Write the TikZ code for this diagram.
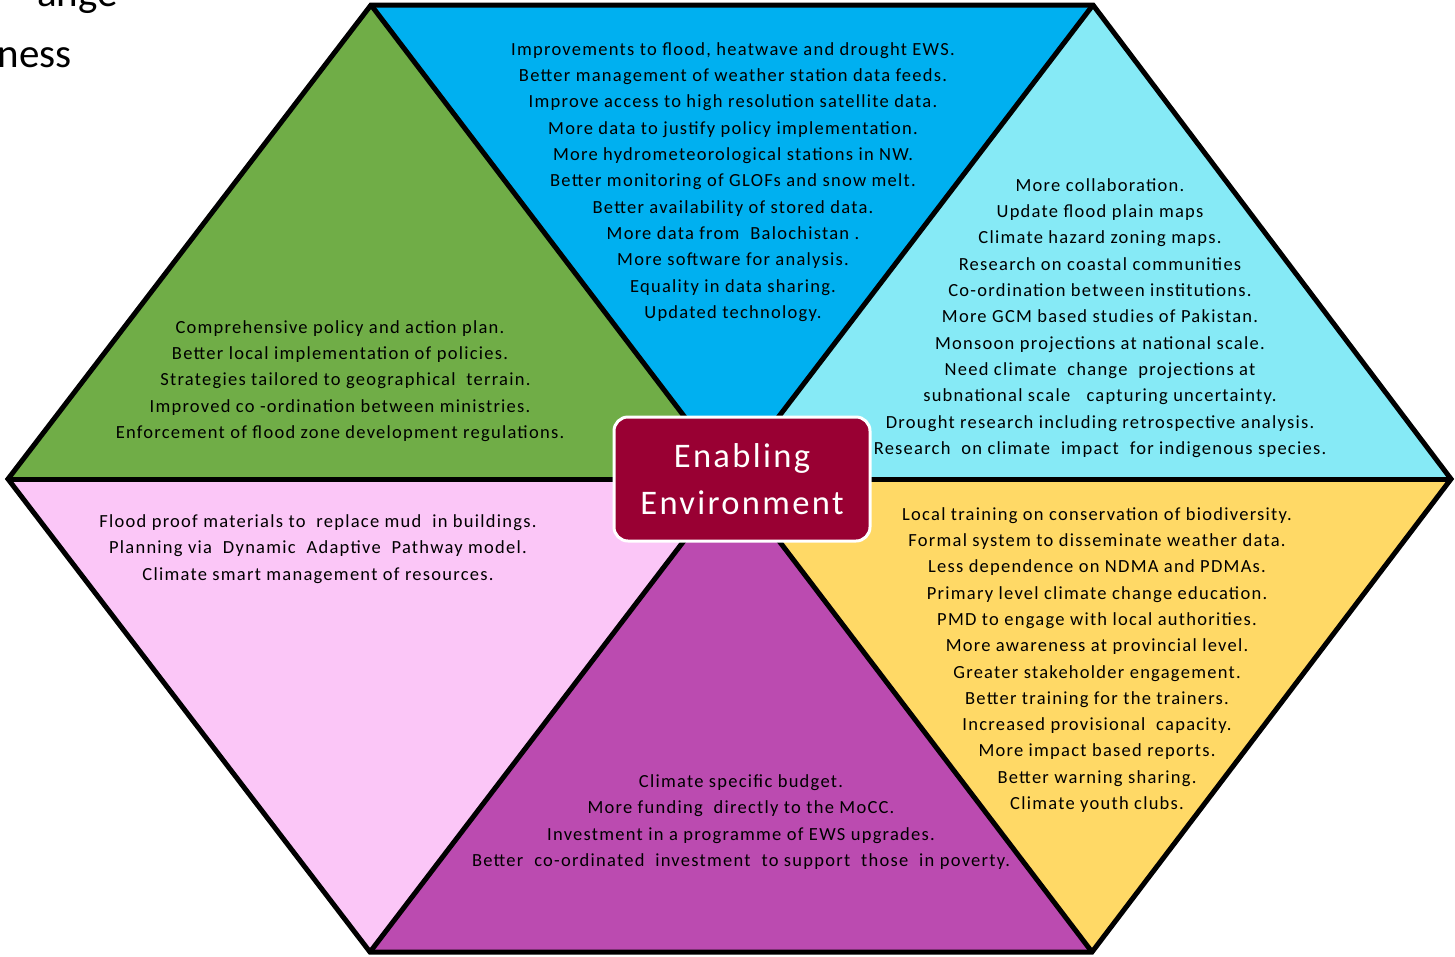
\documentclass[tikz,border=0pt]{standalone}
\usepackage{fontspec}
\setmainfont{Carlito}
\definecolor{cgreen}{HTML}{70AD47}
\definecolor{cblue}{HTML}{00B0F0}
\definecolor{ccyan}{HTML}{86EAF6}
\definecolor{cyellow}{HTML}{FFD966}
\definecolor{cpurple}{HTML}{BB4BB0}
\definecolor{cpink}{HTML}{FBC6F7}
\definecolor{cred}{HTML}{990033}
\newfontfamily\spacedfont[LetterSpace=6.8]{Carlito}
\tikzset{
  hexline/.style={draw=black, line width=5pt, line join=miter},
  bodytext/.style={align=center, text=black, inner sep=0pt,
    font=\spacedfont\fontsize{18.5}{26.3}\selectfont},
  hub/.style={draw=white, line width=3pt, fill=cred, rounded corners=14pt,
    minimum width=256pt, minimum height=124pt, align=center, text=white,
    font=\spacedfont\fontsize{34.5}{47}\selectfont, inner sep=0pt},
  titletext/.style={font=\fontsize{41}{50}\selectfont, inner sep=0pt, text=black}
}
\begin{document}
\begin{tikzpicture}[x=1pt,y=-1pt]
\useasboundingbox (0,0) rectangle (1455,956);
% vertices
\coordinate (TL) at (371,5);
\coordinate (TR) at (1093,5);
\coordinate (R) at (1451,479);
\coordinate (BR) at (1092,952);
\coordinate (BL) at (370,952);
\coordinate (L) at (8,479);
\coordinate (C) at (731.5,479);
% sectors
\fill[cblue] (TL) -- (TR) -- (C) -- cycle;
\fill[ccyan] (TR) -- (R) -- (C) -- cycle;
\fill[cyellow] (R) -- (BR) -- (C) -- cycle;
\fill[cpurple] (BR) -- (BL) -- (C) -- cycle;
\fill[cpink] (BL) -- (L) -- (C) -- cycle;
\fill[cgreen] (L) -- (TL) -- (C) -- cycle;
% outlines
\draw[hexline] (TL) -- (TR) -- (R) -- (BR) -- (BL) -- (L) -- cycle;
\draw[hexline] (L) -- (R);
\draw[hexline] (TL) -- (BR);
\draw[hexline] (TR) -- (BL);
% title fragments
\node[titletext, anchor=base east] (t1) at (118,6) {ange};
\node[titletext, anchor=base east] (t2) at (72,67) {ness};
% texts
\node[bodytext] (blue) at (733,182) {Improvements to flood, heatwave and drought EWS.\\
Better management of weather station data feeds.\\
Improve access to high resolution satellite data.\\
More data to justify policy implementation.\\
More hydrometeorological stations in NW.\\
Better monitoring of GLOFs and snow melt.\\
Better availability of stored data.\\
More data from \ Balochistan .\\
More software for analysis.\\
Equality in data sharing.\\
Updated technology.};
\node[bodytext] (cyan) at (1100,318) {More collaboration.\\
Update flood plain maps\\
Climate hazard zoning maps.\\
Research on coastal communities\\
Co-ordination between institutions.\\
More GCM based studies of Pakistan.\\
Monsoon projections at national scale.\\
Need climate \ change \ projections at\\
subnational scale \ \ capturing uncertainty.\\
Drought research including retrospective analysis.\\
Research \ on climate \ impact \ for indigenous species.};
\node[bodytext] (green) at (340,381) {Comprehensive policy and action plan.\\
Better local implementation of policies.\\
\ \ Strategies tailored to geographical \ terrain.\\
Improved co -ordination between ministries.\\
Enforcement of flood zone development regulations.};
\node[bodytext] (pink) at (318,549) {Flood proof materials to \ replace mud \ in buildings.\\
Planning via \ Dynamic \ Adaptive \ Pathway model.\\
Climate smart management of resources.};
\node[bodytext] (yellow) at (1097,660) {Local training on conservation of biodiversity.\\
Formal system to disseminate weather data.\\
Less dependence on NDMA and PDMAs.\\
Primary level climate change education.\\
PMD to engage with local authorities.\\
More awareness at provincial level.\\
Greater stakeholder engagement.\\
Better training for the trainers.\\
Increased provisional \ capacity.\\
More impact based reports.\\
Better warning sharing.\\
Climate youth clubs.};
\node[bodytext] (purple) at (741,822) {Climate specific budget.\\
More funding \ directly to the MoCC.\\
Investment in a programme of EWS upgrades.\\
Better \ co-ordinated \ investment \ to support \ those \ in poverty.};
% hub
\node[hub] (hubbox) at (742,479) {Enabling\\Environment};
\end{tikzpicture}
\end{document}
